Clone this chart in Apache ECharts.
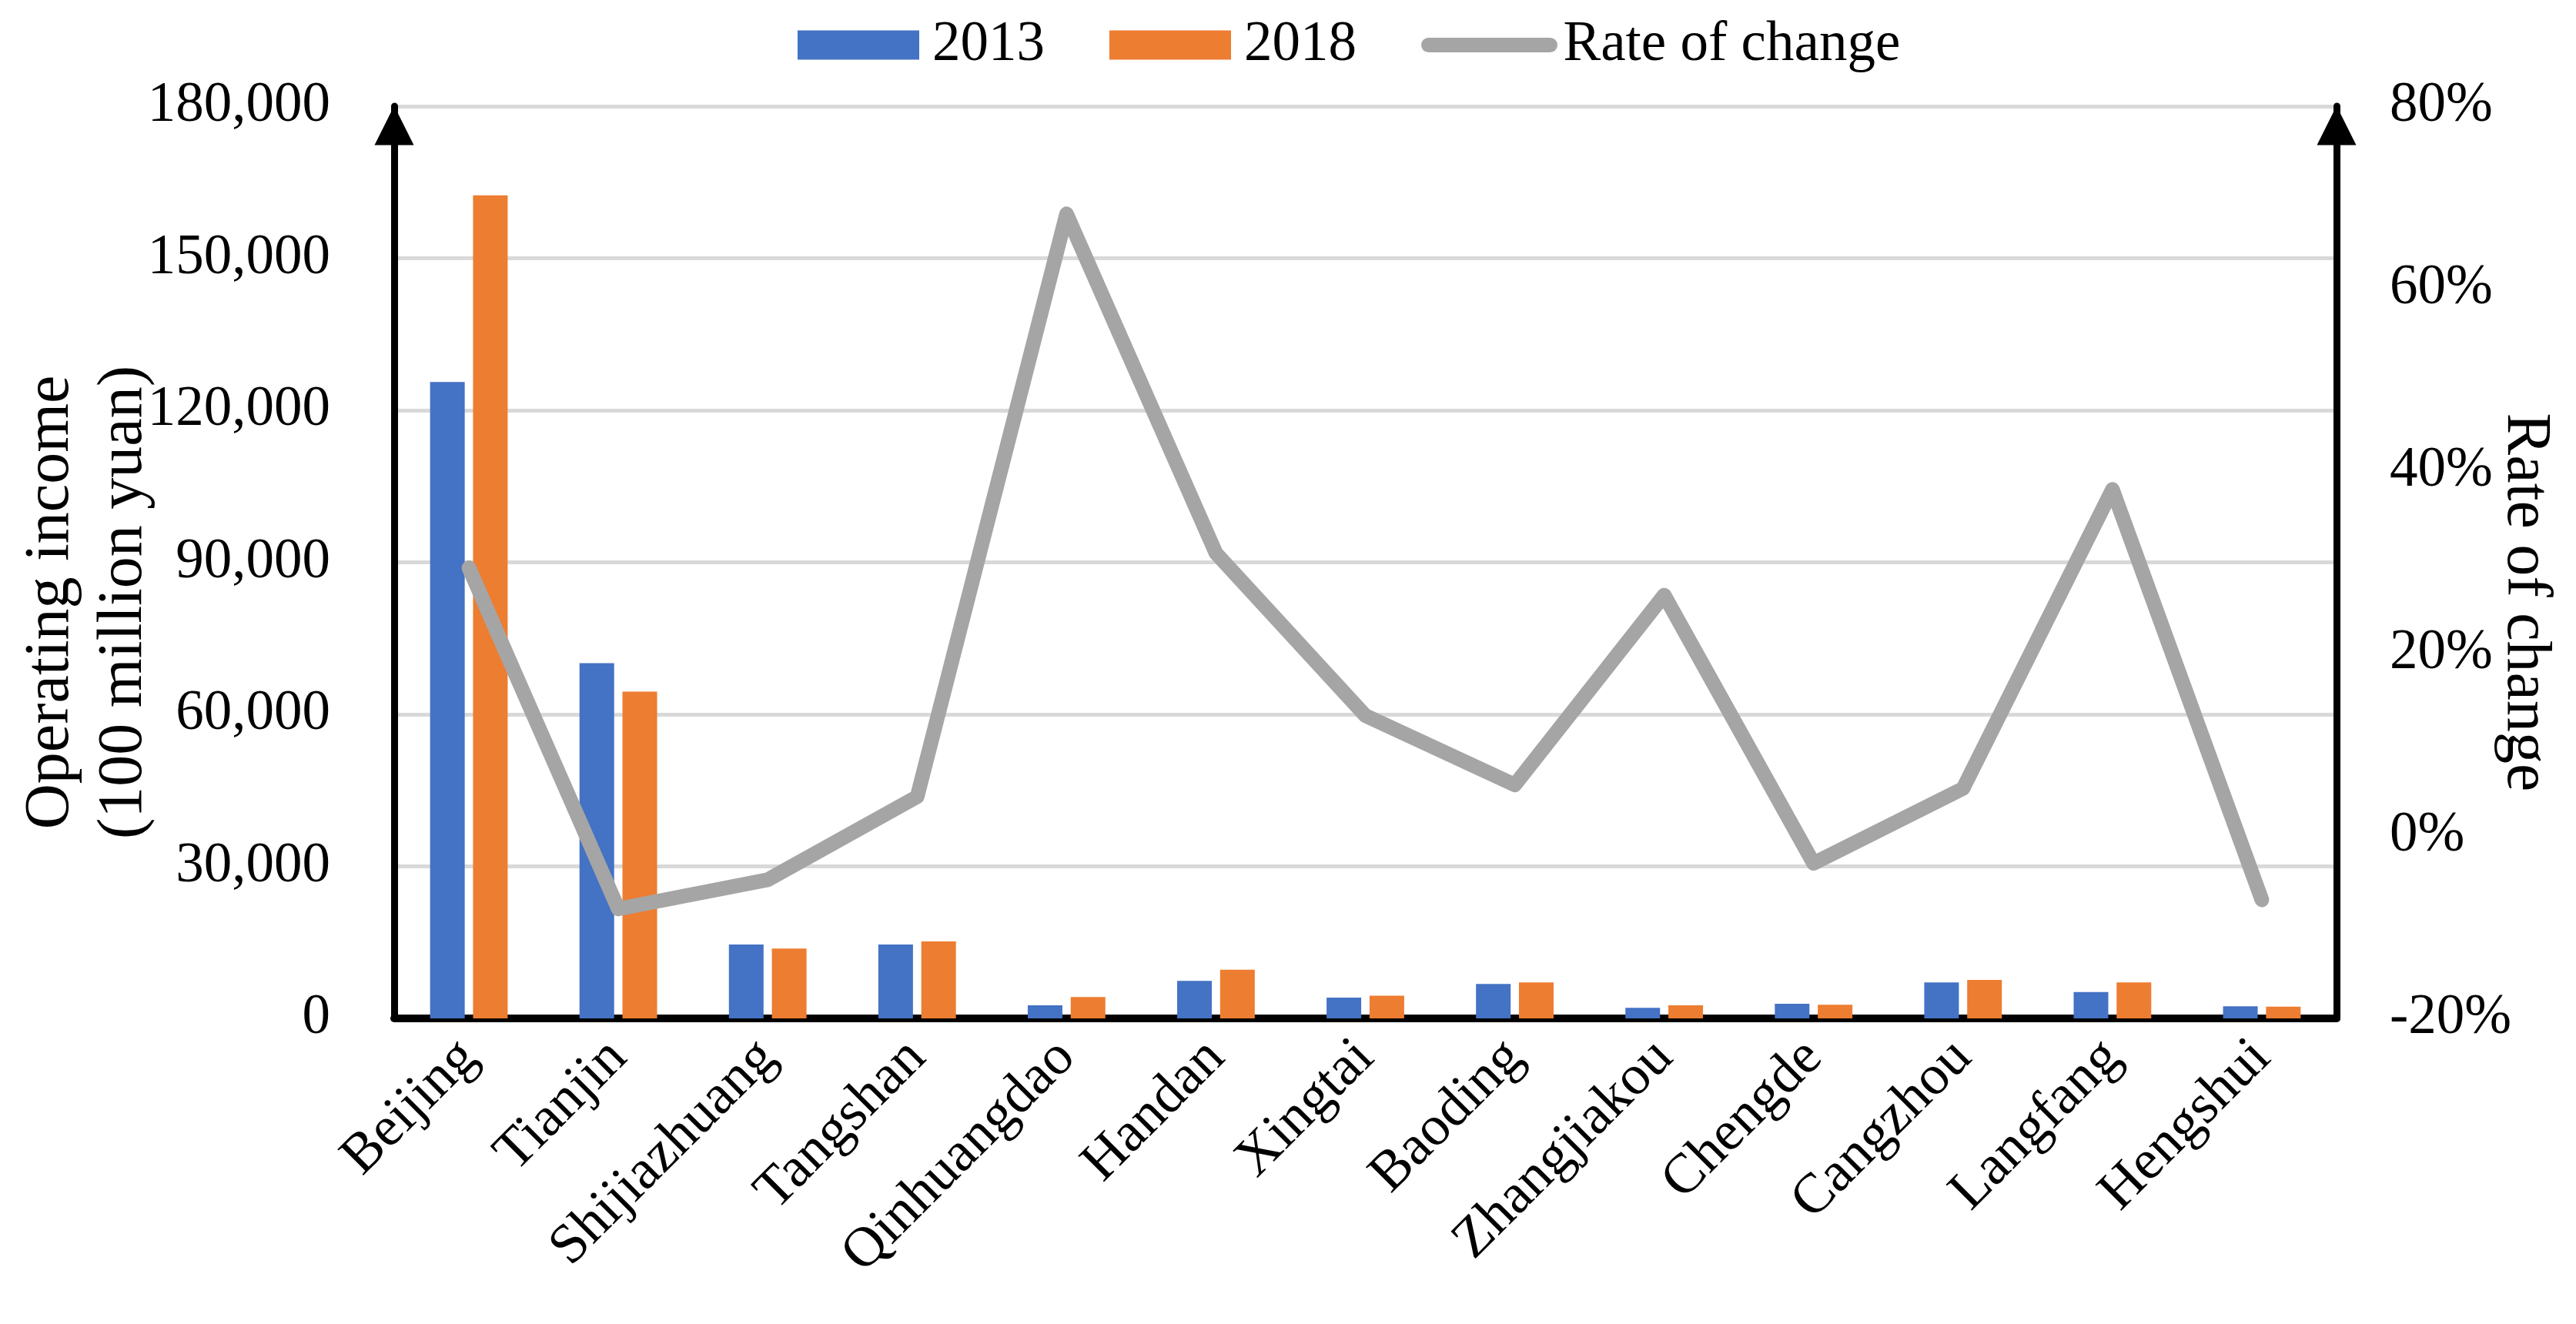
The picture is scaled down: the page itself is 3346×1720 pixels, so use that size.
<!DOCTYPE html>
<html>
<head>
<meta charset="utf-8">
<script src="https://cdn.jsdelivr.net/npm/echarts@6/dist/echarts.min.js"></script>
<style>
html,body{margin:0;padding:0;background:#fff;}
#chart{width:3346px;height:1720px;}
</style>
</head>
<body>
<div id="chart"></div>
<script>
// ---- data ----
const categories = ['Beijing','Tianjin','Shijiazhuang','Tangshan','Qinhuangdao','Handan','Xingtai','Baoding','Zhangjiakou','Chengde','Cangzhou','Langfang','Hengshui'];
const income2013 = [125600, 70100, 14600, 14600, 2600, 7400, 4100, 6800, 2100, 2900, 7100, 5200, 2400];
const income2018 = [162400, 64500, 13800, 15200, 4200, 9600, 4500, 7100, 2600, 2700, 7600, 7100, 2300];
const rateOfChange = [29.4, -8.0, -4.8, 4.3, 68.2, 31.0, 13.2, 5.6, 26.4, -3.0, 5.2, 38.0, -7.0];
const leftTicks = { min: 0, max: 180000, interval: 30000 };
const rightTicks = { min: -20, max: 80, interval: 20 };

const FONT = "'Times New Roman','Liberation Serif',serif";
const chart = echarts.init(document.getElementById('chart'), null, {renderer: 'canvas'});

const option = {
  backgroundColor: '#ffffff',
  animation: false,
  textStyle: { fontFamily: FONT, color: '#000' },
  legend: {
    left: 1031,
    top: 17,
    itemWidth: 158,
    itemHeight: 38,
    itemGap: 84,
    textStyle: { fontFamily: FONT, fontSize: 73, color: '#000', padding: [0, 0, 0, 12] },
    lineStyle: { width: 19, cap: 'round' },
    data: [
      { name: '2013', icon: 'rect' },
      { name: '2018', icon: 'rect' },
      { name: 'Rate of change', itemStyle: { color: 'rgba(0,0,0,0)', opacity: 0, borderWidth: 0 } }
    ]
  },
  grid: {
    left: 512, right: 311, top: 138, bottom: 397,
    containLabel: false,
    outerBoundsMode: 'none'
  },
  xAxis: {
    type: 'category',
    data: categories,
    boundaryGap: true,
    axisLine: { show: true, lineStyle: { color: '#000', width: 10 } },
    axisTick: { show: false },
    axisLabel: {
      rotate: 45,
      margin: 40,
      fontFamily: FONT,
      fontSize: 73,
      color: '#000',
      interval: 0
    },
    splitLine: { show: false }
  },
  yAxis: [
    {
      type: 'value',
      position: 'left',
      min: leftTicks.min, max: leftTicks.max, interval: leftTicks.interval,
      name: 'Operating income\n(100 million yuan)',
      nameLocation: 'middle',
      nameRotate: 90,
      nameGap: 303,
      nameMoveOverlap: false,
      nameTextStyle: { fontFamily: FONT, fontSize: 82, lineHeight: 95, color: '#000', padding: [0, 104, 0, 0] },
      axisLine: { show: true, lineStyle: { color: '#000', width: 9 }, symbol: ['none', 'triangle'], symbolSize: [51, 51], symbolOffset: [0, -25] },
      axisTick: { show: false },
      axisLabel: {
        margin: 83, fontFamily: FONT, fontSize: 73, color: '#000',
        formatter: v => v.toLocaleString('en-US')
      },
      splitLine: { show: true, lineStyle: { color: '#d9d9d9', width: 5 } }
    },
    {
      type: 'value',
      position: 'right',
      min: rightTicks.min, max: rightTicks.max, interval: rightTicks.interval,
      name: 'Rate of change',
      nameLocation: 'middle',
      nameRotate: -90,
      nameGap: 204,
      nameMoveOverlap: false,
      nameTextStyle: { fontFamily: FONT, fontSize: 82, color: '#000', padding: [0, 0, 0, 104] },
      axisLine: { show: true, lineStyle: { color: '#000', width: 9 }, symbol: ['none', 'triangle'], symbolSize: [51, 51], symbolOffset: [0, -25] },
      axisTick: { show: false },
      axisLabel: {
        margin: 69, fontFamily: FONT, fontSize: 73, color: '#000',
        formatter: v => Math.round(v) + '%'
      },
      splitLine: { show: false }
    }
  ],
  series: [
    {
      name: '2013', type: 'bar', data: income2013, yAxisIndex: 0,
      barWidth: 45, barGap: '24%',
      itemStyle: { color: '#4472C4' }, z: 2
    },
    {
      name: '2018', type: 'bar', data: income2018, yAxisIndex: 0,
      barWidth: 45, barGap: '24%',
      itemStyle: { color: '#ED7D31' }, z: 2
    },
    {
      name: 'Rate of change', type: 'line', data: rateOfChange, yAxisIndex: 1,
      symbol: 'none', showSymbol: false,
      itemStyle: { color: '#A5A5A5' },
      lineStyle: { color: '#A5A5A5', width: 19, cap: 'round', join: 'round' },
      z: 5
    }
  ]
};
chart.setOption(option);
</script>
</body>
</html>
